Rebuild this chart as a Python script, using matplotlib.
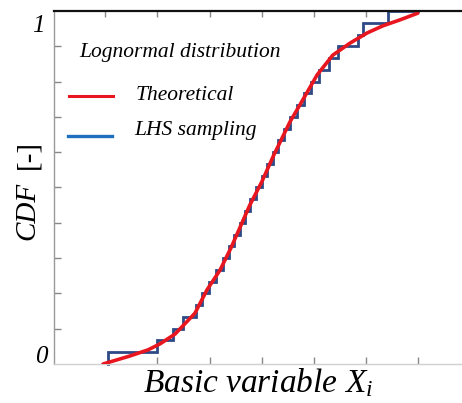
import numpy as np
import matplotlib
matplotlib.use("Agg")
import matplotlib.pyplot as plt
from matplotlib.lines import Line2D

plt.rcParams["mathtext.fontset"] = "custom"
plt.rcParams["mathtext.it"] = "Liberation Serif:italic"
plt.rcParams["mathtext.rm"] = "Liberation Serif"
plt.rcParams["mathtext.cal"] = "Liberation Serif:italic"
plt.rcParams["mathtext.bf"] = "Liberation Serif:bold"

# Theoretical lognormal CDF
theo_x = [0.96, 1.48, 1.82, 2.05, 2.34, 2.72, 2.95, 3.20, 3.41, 3.77, 4.00,
          4.23, 4.54, 4.73, 5.06, 5.36, 5.69, 6.02, 6.32, 6.65, 6.99]
theo_y = [0.000, 0.023, 0.040, 0.057, 0.085, 0.144, 0.210, 0.266, 0.329, 0.450,
          0.516, 0.592, 0.686, 0.734, 0.819, 0.875, 0.909, 0.938, 0.958, 0.975,
          0.994]

# LHS samples (30), sorted
lhs_x = [1.05, 1.99, 2.30, 2.49, 2.74, 2.85, 2.99, 3.12, 3.26, 3.37,
         3.47, 3.58, 3.68, 3.77, 3.89, 4.00, 4.10, 4.22, 4.31, 4.43,
         4.54, 4.67, 4.81, 4.94, 5.10, 5.29, 5.46, 5.84, 5.94, 6.42]

bottom_ticks = [2, 3, 4, 5, 6, 7]
top_ticks = [1, 2, 3, 4, 5, 6]
y_ticks = [0.1, 0.2, 0.3, 0.4, 0.5, 0.6, 0.7, 0.8, 0.9]

W, H = 462, 403
fig = plt.figure(figsize=(W / 100, H / 100), dpi=100)
ax = fig.add_axes([54 / W, 1 - 364 / H, 1 - 54 / W, (364 - 11) / H])

n = len(lhs_x)
levels = np.arange(1, n + 1) / n
sx = [lhs_x[0]]
sy = [0.0]
for i, xv in enumerate(lhs_x):
    sx += [xv, xv]
    sy += [levels[i - 1] if i > 0 else 0.0, levels[i]]
    sx_next = lhs_x[i + 1] if i + 1 < n else 7.0
    sx += [sx_next]
    sy += [levels[i]]
ax.plot(sx, sy, color="#2d4a86", lw=2.0, solid_joinstyle="miter", zorder=2,
        clip_on=False)
ax.plot(theo_x, theo_y, color="#e8161e", lw=2.6, zorder=3, solid_capstyle="round",
        solid_joinstyle="round")

ax.set_xlim(0.0196, (W - 53) / 52.2)
ax.set_ylim(0, 1.0)

ax.spines["right"].set_visible(False)
ax.spines["top"].set_color("#111111")
ax.spines["top"].set_linewidth(1.6)
ax.spines["top"].set_zorder(5)
ax.spines["left"].set_color("#999999")
ax.spines["left"].set_linewidth(1.0)
ax.spines["bottom"].set_color("#d0d0d0")
ax.spines["bottom"].set_linewidth(1.0)

ax.set_xticks(bottom_ticks)
ax.set_xticklabels([])
ax.set_yticks(y_ticks)
ax.set_yticklabels([])
ax.tick_params(axis="x", direction="in", length=5, width=1, color="#888888")
ax.tick_params(axis="y", direction="in", length=5, width=1, color="#888888")

sec = ax.secondary_xaxis("top")
sec.set_xticks(top_ticks)
sec.set_xticklabels([])
sec.tick_params(direction="in", length=4, width=1, color="#888888")
sec.spines["top"].set_visible(False)

serif = ["Liberation Serif", "DejaVu Serif"]

def fx(px):
    return px / W

def fy(py):
    return 1 - py / H

fig.text(fx(38), fy(26), "1", fontsize=18, style="italic", family=serif,
         ha="center", va="center")
fig.text(fx(41), fy(357), "0", fontsize=18, style="italic", family=serif,
         ha="center", va="center")

fig.text(fx(27), fy(240), "CDF", fontsize=21, family=serif, style="italic",
         rotation=90, rotation_mode="anchor", ha="left", va="center")
fig.text(fx(28), fy(140), "[-]", fontsize=21, family=serif,
         rotation=90, rotation_mode="anchor", ha="right", va="center")

fig.text(fx(258), fy(383), "Basic variable $X_i$", fontsize=24, style="italic",
         family=serif, ha="center", va="center")

fig.text(fx(79), fy(52), "Lognormal distribution", fontsize=15.5, style="italic",
         family=serif, ha="left", va="center")
fig.text(fx(136), fy(95), "Theoretical", fontsize=15.5, style="italic",
         family=serif, ha="left", va="center")
fig.text(fx(134), fy(131), "LHS sampling", fontsize=15.5, style="italic",
         family=serif, ha="left", va="center")
fig.add_artist(Line2D([fx(69), fx(113)], [fy(96), fy(96)], color="#e8161e",
                      lw=2.2, transform=fig.transFigure))
fig.add_artist(Line2D([fx(68), fx(112)], [fy(136), fy(136)], color="#1f6fbf",
                      lw=2.4, transform=fig.transFigure))

fig.savefig("out.png", dpi=100)
